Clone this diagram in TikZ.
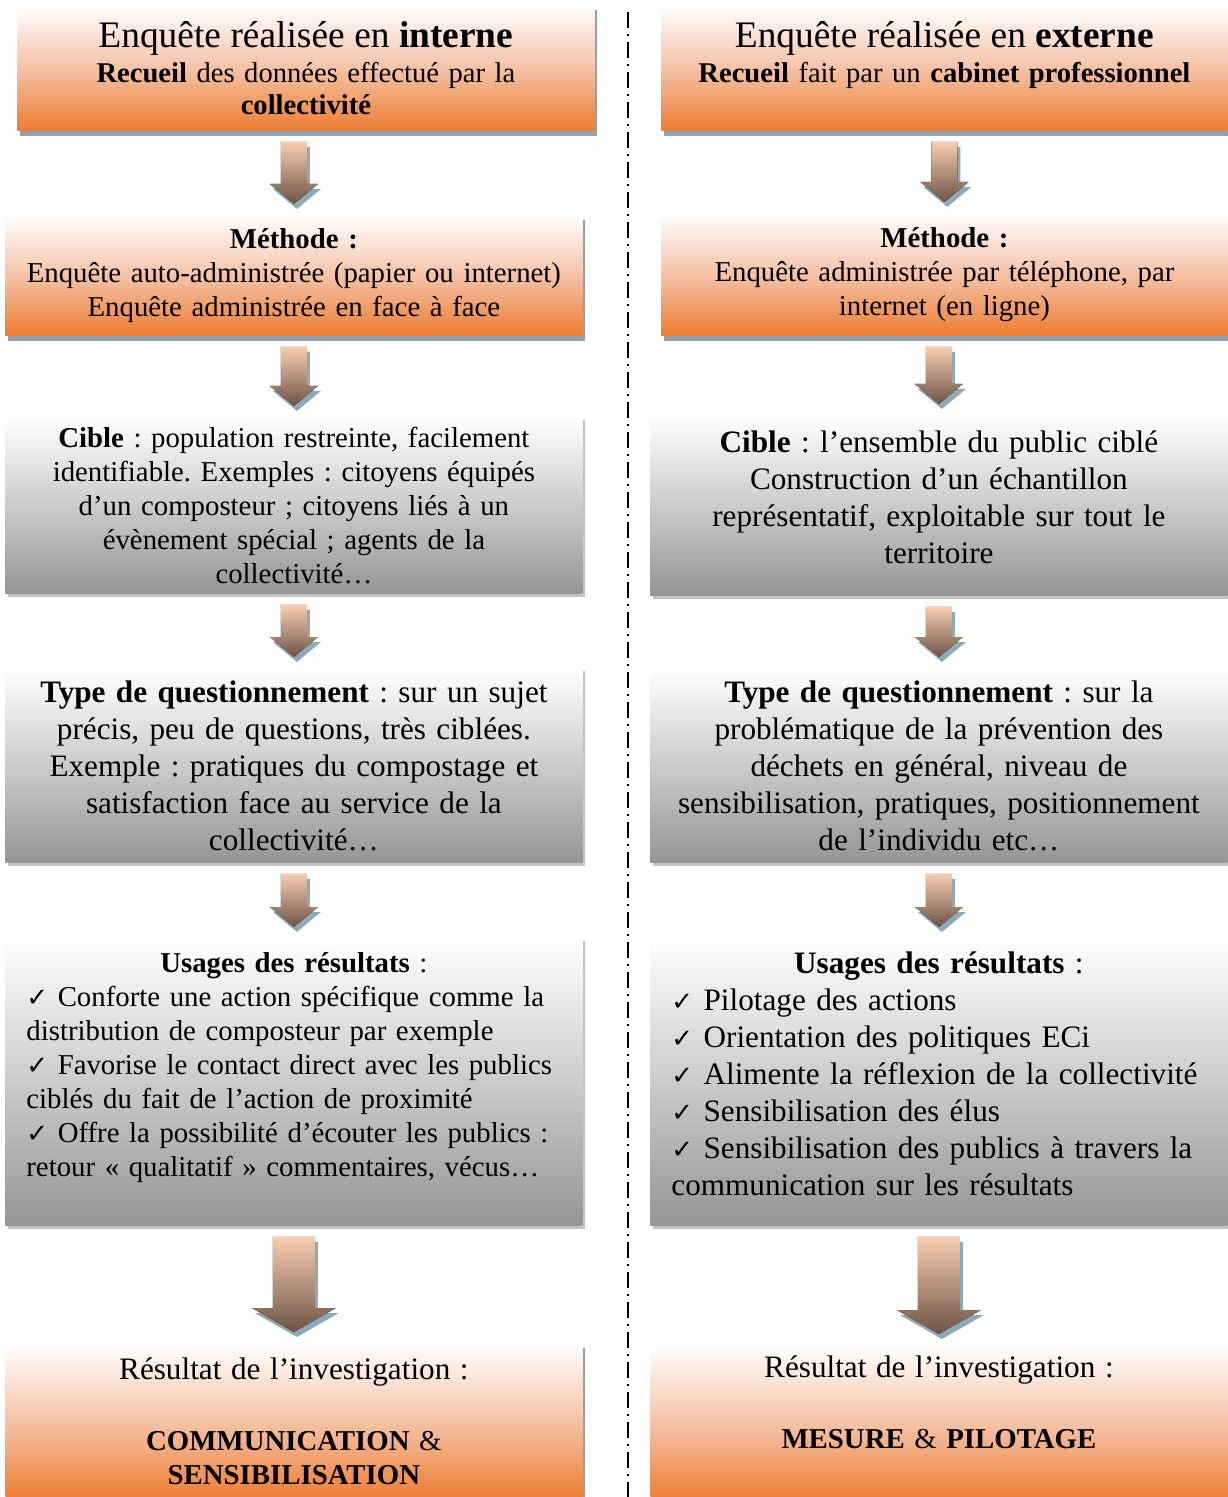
\documentclass[tikz,border=0pt]{standalone}
\usepackage{fontspec}
\setmainfont{Liberation Serif}
\newfontfamily\symfont{DejaVu Sans}
\usetikzlibrary{calc,backgrounds}
\AtBeginDocument{\frenchspacing}
\definecolor{orange1}{HTML}{ED7D31}
\definecolor{orange2}{HTML}{F5C2A6}
\definecolor{gray1}{HTML}{959595}
\definecolor{gray2}{HTML}{CBCBCB}
\definecolor{oshadow}{HTML}{8FA1B2}
\definecolor{gshadow}{HTML}{C4C4C4}
\definecolor{arrowtop}{HTML}{F8CDB0}
\definecolor{arrowbot}{HTML}{6E5446}
\definecolor{arrowshadow}{HTML}{8FAAB7}
\newcommand\okmark{{\symfont\fontsize{13}{13}\selectfont ✓}}
\newcommand\arrowbody[5]{let \p1=(#1.south), \p2=(#2.north) in
  (\x2-#3,\y1-5.5pt) -- (\x2+#3,\y1-5.5pt) -- (\x2+#3,\y2+5.5pt+#5) -- (\x2+#4,\y2+5.5pt+#5)
  -- (\x2,\y2+5.5pt) -- (\x2-#4,\y2+5.5pt+#5) -- (\x2-#3,\y2+5.5pt+#5) -- cycle}
\newcommand\flowarrow[5]{%
  \fill[arrowshadow, transform canvas={shift={(1.5pt,-2.5pt)}}] \arrowbody{#1}{#2}{#3}{#4}{#5};
  \fill[top color=arrowtop, bottom color=arrowbot] \arrowbody{#1}{#2}{#3}{#4}{#5};}
\begin{document}
\begin{tikzpicture}[
	x=1pt, y=1pt,
	box/.style={rectangle, anchor=north west, inner xsep=4pt, inner ysep=0pt, align=center},
	wide/.style={text width=280.5pt},
	narrow/.style={text width=275pt},
	usage/.style={align=left, inner xsep=10.5pt, text width=267.5pt},
	obox/.style={box, top color=white, bottom color=orange1, middle color=orange2},
	gbox/.style={box, top color=white, bottom color=gray1, middle color=gray2},
	head/.style={font=\fontsize{14.3}{16}\selectfont},
	body/.style={font=\fontsize{14.4}{17}\selectfont},
	bigbody/.style={font=\fontsize{15.6}{18.5}\selectfont},
	sepline/.style={line width=0.7pt, dash pattern=on 8pt off 3pt on 1pt off 3pt},
]
\useasboundingbox (0,0) rectangle (613.5,-748.5);

% enquete interne
\node[obox, wide, head, minimum height=62.5pt] (int) at (8.5,-2.5)
	{{\fontsize{18.7}{20}\selectfont Enquête réalisée en \textbf{interne}}\\[1.5pt]
	\textbf{Recueil} des données effectué par la\\ \textbf{collectivité}};
\node[obox, wide, body, minimum height=60pt] (intmeth) at (2.5,-107.5)
	{\textbf{Méthode :}\\ Enquête auto-administrée (papier ou internet)\\
	Enquête administrée en face à face};
\node[gbox, wide, body, minimum height=88pt] (intcib) at (2.5,-208.5)
	{\textbf{Cible} : population restreinte, facilement\\
	identifiable. Exemples : citoyens équipés\\
	d’un composteur ; citoyens liés à un\\
	évènement spécial ; agents de la\\ collectivité…};
\node[gbox, wide, bigbody, minimum height=97pt] (intq) at (2.5,-334)
	{\textbf{Type de questionnement} : sur un sujet\\
	précis, peu de questions, très ciblées.\\
	Exemple : pratiques du compostage et\\
	satisfaction face au service de la\\ collectivité…};
\node[gbox, usage, body, minimum height=143.5pt] (intuse) at (2.5,-469)
	{\centerline{\textbf{Usages des résultats} :}
	\okmark{} Conforte une action spécifique comme la\\
	distribution de composteur par exemple\\
	\okmark{} Favorise le contact direct avec les publics\\
	ciblés du fait de l’action de proximité\\
	\okmark{} Offre la possibilité d’écouter les publics :\\
	retour « qualitatif » commentaires, vécus…\\[0pt] \mbox{}};
\node[obox, wide, body, minimum height=78pt] (intres) at (2.5,-671.5)
	{{\fontsize{15.6}{17}\selectfont Résultat de l’investigation :}\\[1.5pt] \mbox{}\\
	\textbf{COMMUNICATION} \&\\ \textbf{SENSIBILISATION}};

% enquete externe
\node[obox, narrow, head, minimum height=62.5pt] (ext) at (330.5,-2.5)
	{{\fontsize{18.7}{20}\selectfont Enquête réalisée en \textbf{externe}}\\[1.5pt]
	\textbf{Recueil} fait par un \textbf{cabinet professionnel}\\ \mbox{}};
\node[obox, narrow, body, minimum height=61pt] (extmeth) at (330.5,-106.5)
	{\textbf{Méthode :}\\ Enquête administrée par téléphone, par\\ internet (en ligne)};
\node[gbox, wide, bigbody, minimum height=90pt] (extcib) at (325,-207.5)
	{\textbf{Cible} : l’ensemble du public ciblé\\
	Construction d’un échantillon\\
	représentatif, exploitable sur tout le\\ territoire\\[-10pt] \mbox{}};
\node[gbox, wide, bigbody, minimum height=97pt] (extq) at (325,-334)
	{\textbf{Type de questionnement} : sur la\\
	problématique de la prévention des\\
	déchets en général, niveau de\\
	sensibilisation, pratiques, positionnement\\
	de l’individu etc…};
\node[gbox, usage, bigbody, minimum height=143.5pt] (extuse) at (325,-469)
	{\centerline{\textbf{Usages des résultats} :}
	\okmark{} Pilotage des actions\\
	\okmark{} Orientation des politiques ECi\\
	\okmark{} Alimente la réflexion de la collectivité\\
	\okmark{} Sensibilisation des élus\\
	\okmark{} Sensibilisation des publics à travers la\\
	communication sur les résultats\\[-10pt] \mbox{}};
\node[obox, wide, body, minimum height=78pt] (extres) at (325,-672.5)
	{{\fontsize{15.6}{17}\selectfont Résultat de l’investigation :}\\[1.5pt] \mbox{}\\
	\textbf{MESURE} \& \textbf{PILOTAGE}\\[4pt] \mbox{}};

% shadows
\begin{scope}[on background layer]
\foreach \n in {int,ext,intmeth,extmeth,intres,extres}
	\fill[oshadow] ($(\n.south west)+(1.5,-2.5)$) rectangle ($(\n.north east)+(1,-2.5)$);
\foreach \n in {intcib,extcib,intq,extq,intuse,extuse}
	\fill[gshadow] ($(\n.south west)+(1.5,-1.5)$) rectangle ($(\n.north east)+(1,-1.5)$);
\end{scope}

% arrows
\flowarrow{int}{intmeth}{6.5pt}{12pt}{10pt}
\flowarrow{intmeth}{intcib}{6.5pt}{12pt}{10pt}
\flowarrow{intcib}{intq}{6.5pt}{12pt}{10pt}
\flowarrow{intq}{intuse}{6.5pt}{12pt}{10pt}
\flowarrow{intuse}{intres}{10.5pt}{21pt}{12pt}
\flowarrow{ext}{extmeth}{6.5pt}{12pt}{10pt}
\flowarrow{extmeth}{extcib}{6.5pt}{12pt}{10pt}
\flowarrow{extcib}{extq}{6.5pt}{12pt}{10pt}
\flowarrow{extq}{extuse}{6.5pt}{12pt}{10pt}
\flowarrow{extuse}{extres}{10.5pt}{21pt}{12pt}

% separateur
\coordinate (septop) at (314,-6);
\coordinate (sepbot) at (314,-748.5);
\draw[sepline] (septop) -- (sepbot);
\end{tikzpicture}
\end{document}
